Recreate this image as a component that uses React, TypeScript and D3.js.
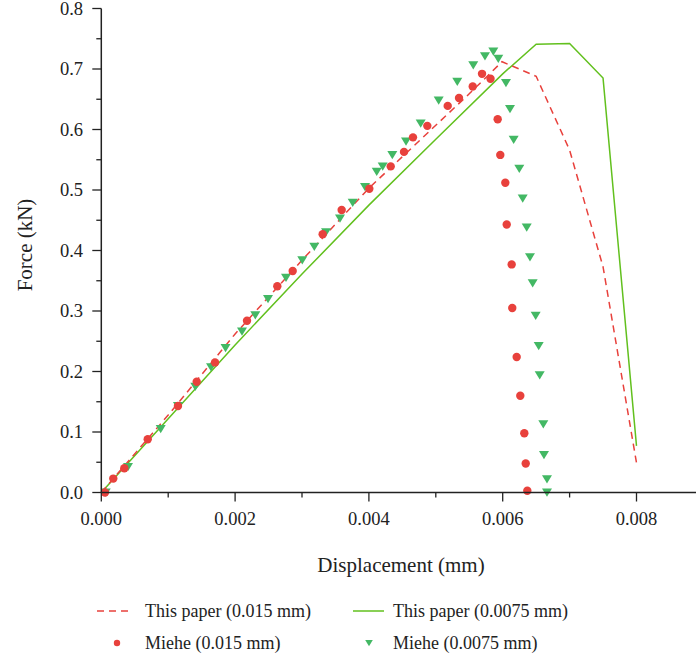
import React from "react";
import * as d3 from "d3";

const xTicks = [0, 0.002, 0.004, 0.006, 0.008];
const xMinorTicks = [0.001, 0.003, 0.005, 0.007];
const yTicks = [0, 0.1, 0.2, 0.3, 0.4, 0.5, 0.6, 0.7, 0.8];
const yMinorTicks = [0.05, 0.15, 0.25, 0.35, 0.45, 0.55, 0.65, 0.75];

const paper015X = [0, 0.001, 0.002, 0.003, 0.004, 0.005, 0.0055, 0.00599, 0.0065, 0.007, 0.0075, 0.008];
const paper015Y = [0, 0.128, 0.262, 0.384, 0.503, 0.607, 0.659, 0.712, 0.688, 0.566, 0.373, 0.049];

const paper0075X = [0, 0.001, 0.002, 0.003, 0.004, 0.005, 0.006, 0.0065, 0.007, 0.0075, 0.008];
const paper0075Y = [0, 0.122, 0.244, 0.361, 0.475, 0.584, 0.692, 0.741, 0.742, 0.685, 0.077];

const miehe015X = [0.000055, 0.000179, 0.000344, 0.000694, 0.001146, 0.001426, 0.0017, 0.002178, 0.002631, 0.002861, 0.003309, 0.003593, 0.004006, 0.004326, 0.004525, 0.004659, 0.004873, 0.005178, 0.005347, 0.005552, 0.005691, 0.005818, 0.005925, 0.005964, 0.006039, 0.00606, 0.006134, 0.006143, 0.006209, 0.006263, 0.006323, 0.006344, 0.006368];
const miehe015Y = [0.0, 0.023, 0.04, 0.088, 0.143, 0.183, 0.215, 0.284, 0.341, 0.366, 0.427, 0.467, 0.502, 0.539, 0.563, 0.587, 0.606, 0.639, 0.652, 0.671, 0.692, 0.684, 0.617, 0.558, 0.512, 0.443, 0.377, 0.305, 0.224, 0.16, 0.098, 0.048, 0.003];

const miehe0075X = [0.000066, 0.000399, 0.000888, 0.001146, 0.001405, 0.00164, 0.001857, 0.002103, 0.002302, 0.002492, 0.002761, 0.003004, 0.003184, 0.003359, 0.003568, 0.003758, 0.003942, 0.004117, 0.004206, 0.00435, 0.004555, 0.004774, 0.005043, 0.005321, 0.00556, 0.005735, 0.00586, 0.005934, 0.006049, 0.006109, 0.006164, 0.006248, 0.006299, 0.006359, 0.006408, 0.006448, 0.006493, 0.006538, 0.006553, 0.006607, 0.006617, 0.006662, 0.006662];
const miehe0075Y = [0.0, 0.042, 0.105, 0.143, 0.175, 0.207, 0.239, 0.266, 0.293, 0.32, 0.355, 0.384, 0.406, 0.43, 0.453, 0.479, 0.505, 0.53, 0.539, 0.558, 0.58, 0.61, 0.648, 0.679, 0.706, 0.721, 0.729, 0.717, 0.677, 0.634, 0.583, 0.535, 0.486, 0.438, 0.389, 0.346, 0.292, 0.242, 0.194, 0.113, 0.062, 0.022, 0.0];

const seriesNames = ["This paper (0.015 mm)", "This paper (0.0075 mm)", "Miehe (0.015 mm)", "Miehe (0.0075 mm)"];

const RED = "#e8413c";
const GREEN_LINE = "#62c01e";
const GREEN_MARK = "#43b864";
const AXIS = "#222";
const FONT = "'Liberation Serif', 'DejaVu Serif', serif";

export default function App() {
  const W = 696, H = 660;
  const x = d3.scaleLinear().domain([0, 0.008]).range([101.3, 636.5]);
  const y = d3.scaleLinear().domain([0, 0.8]).range([492.5, 8.5]);
  const xEnd = 696;

  const line = d3.line<[number, number]>().x(d => x(d[0])).y(d => y(d[1]));
  const p015 = paper015X.map((v, i) => [v, paper015Y[i]] as [number, number]);
  const p0075 = paper0075X.map((v, i) => [v, paper0075Y[i]] as [number, number]);

  const tri = (cx: number, cy: number, s: number) =>
    `M${cx - s},${cy - s * 0.8}L${cx + s},${cy - s * 0.8}L${cx},${cy + s * 0.85}Z`;

  return (
    <svg width={W} height={H} style={{ position: "absolute", left: 0, top: 0, background: "#fff" }} fontFamily={FONT}>
      {/* lines */}
      <path d={line(p0075) || ""} fill="none" stroke={GREEN_LINE} strokeWidth={1.5} />
      <path d={line(p015) || ""} fill="none" stroke={RED} strokeWidth={1.5} strokeDasharray="7,5" />
      {/* markers */}
      {miehe0075X.map((v, i) => (
        <path key={"g" + i} d={tri(x(v), y(miehe0075Y[i]), 5)} fill={GREEN_MARK} />
      ))}
      {miehe015X.map((v, i) => (
        <circle key={"r" + i} cx={x(v)} cy={y(miehe015Y[i])} r={4.2} fill={RED} />
      ))}
      {/* axes */}
      <line x1={x(0)} x2={xEnd} y1={y(0)} y2={y(0)} stroke={AXIS} strokeWidth={1.5} />
      <line x1={x(0)} x2={x(0)} y1={y(0)} y2={y(0.8)} stroke={AXIS} strokeWidth={1.5} />
      {xTicks.map(t => (
        <g key={"xt" + t}>
          <line x1={x(t)} x2={x(t)} y1={y(0)} y2={y(0) + 9} stroke={AXIS} strokeWidth={1.3} />
          <text x={x(t)} y={525} textAnchor="middle" fontSize={18.5} fill="#222">{t.toFixed(3)}</text>
        </g>
      ))}
      {xMinorTicks.map(t => (
        <line key={"xm" + t} x1={x(t)} x2={x(t)} y1={y(0)} y2={y(0) + 5} stroke={AXIS} strokeWidth={1.3} />
      ))}
      {yTicks.map(t => (
        <g key={"yt" + t}>
          <line x1={x(0) - 9} x2={x(0)} y1={y(t)} y2={y(t)} stroke={AXIS} strokeWidth={1.3} />
          <text x={83} y={y(t) + 6} textAnchor="end" fontSize={18.5} fill="#222">{t.toFixed(1)}</text>
        </g>
      ))}
      {yMinorTicks.map(t => (
        <line key={"ym" + t} x1={x(0) - 5} x2={x(0)} y1={y(t)} y2={y(t)} stroke={AXIS} strokeWidth={1.3} />
      ))}
      <text x={401} y={572} textAnchor="middle" fontSize={21} fill="#222">Displacement (mm)</text>
      <text transform="translate(32,245) rotate(-90)" textAnchor="middle" fontSize={21} fill="#222">Force (kN)</text>
      {/* legend */}
      <line x1={97} x2={133} y1={611} y2={611} stroke={RED} strokeWidth={1.5} strokeDasharray="7,5" />
      <text x={145} y={617} fontSize={18} fill="#222">{seriesNames[0]}</text>
      <line x1={353} x2={384} y1={611} y2={611} stroke={GREEN_LINE} strokeWidth={1.5} />
      <text x={393} y={617} fontSize={18} fill="#222">{seriesNames[1]}</text>
      <circle cx={117} cy={643} r={3.2} fill={RED} />
      <text x={145} y={649} fontSize={18} fill="#222">{seriesNames[2]}</text>
      <path d={tri(369, 643, 3.8)} fill={GREEN_MARK} />
      <text x={393} y={649} fontSize={18} fill="#222">{seriesNames[3]}</text>
    </svg>
  );
}
